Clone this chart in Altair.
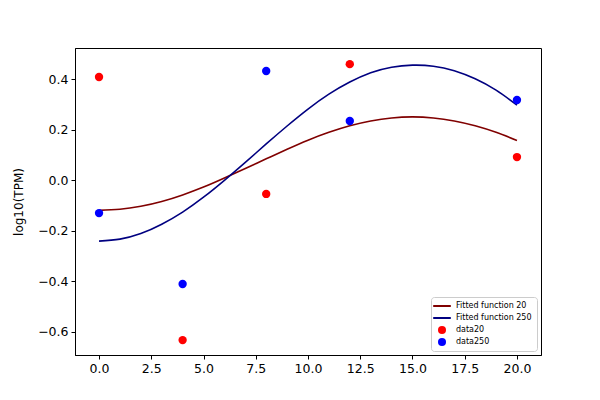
import altair as alt
import pandas as pd

pt_x = [0, 4, 8, 12, 20]
data20 = [0.408, -0.634, -0.055, 0.459, 0.091]
data250 = [-0.131, -0.412, 0.432, 0.234, 0.317]

fit_x = list(range(0, 21))
fit20 = [-0.120, -0.116, -0.104, -0.085, -0.059, -0.028, 0.008, 0.046, 0.084,
         0.122, 0.158, 0.189, 0.215, 0.234, 0.246, 0.250, 0.246, 0.234, 0.215,
         0.189, 0.157]
fit250 = [-0.242, -0.234, -0.212, -0.175, -0.127, -0.068, -0.001, 0.070, 0.143,
          0.214, 0.281, 0.340, 0.388, 0.425, 0.447, 0.455, 0.451, 0.433, 0.401,
          0.356, 0.297]

series = ["Fitted function 20", "Fitted function 250", "data20", "data250"]
colors = ["#800000", "#000080", "#ff0000", "#0000ff"]
line_shape = "M-2.2,-0.25H2.2V0.25H-2.2Z"
shapes = [line_shape, line_shape, "circle", "circle"]

lines = pd.DataFrame(
    {"x": fit_x + fit_x,
     "y": fit20 + fit250,
     "series": ["Fitted function 20"] * len(fit_x) + ["Fitted function 250"] * len(fit_x)}
)
points = pd.DataFrame(
    {"x": pt_x + pt_x,
     "y": data20 + data250,
     "series": ["data20"] * len(pt_x) + ["data250"] * len(pt_x)}
)

xscale = alt.Scale(domain=[-1.15, 21.15], nice=False, zero=False)
yscale = alt.Scale(domain=[-0.693, 0.523], nice=False, zero=False)
cscale = alt.Scale(domain=series, range=colors)
sscale = alt.Scale(domain=series, range=shapes)

xaxis = alt.Axis(values=[0, 2.5, 5, 7.5, 10, 12.5, 15, 17.5, 20], format=".1f",
                 title=None, grid=False)
yaxis = alt.Axis(values=[-0.6, -0.4, -0.2, 0.0, 0.2, 0.4], format=".1f",
                 title="log10(TPM)", grid=False, titlePadding=12)

leg = alt.Legend(title=None, orient="none", legendX=356, legendY=249)

line_layer = alt.Chart(lines).mark_line(strokeWidth=1.6, interpolate="natural").encode(
    x=alt.X("x:Q", scale=xscale, axis=xaxis),
    y=alt.Y("y:Q", scale=yscale, axis=yaxis),
    color=alt.Color("series:N", scale=cscale, legend=None),
    detail="series:N",
)

point_layer = alt.Chart(points).mark_point(filled=True, opacity=1, size=70).encode(
    x=alt.X("x:Q", scale=xscale),
    y=alt.Y("y:Q", scale=yscale),
    color=alt.Color("series:N", scale=cscale, legend=leg),
    shape=alt.Shape("series:N", scale=sscale, legend=leg),
)

chart = alt.layer(line_layer, point_layer).resolve_legend(
    color="independent", shape="independent"
).properties(
    width=466, height=307,
    autosize=alt.AutoSizeParams(type="none"),
    padding={"left": 67, "top": 40, "right": 51, "bottom": 37},
).configure_view(
    stroke="black", strokeWidth=1
).configure_axis(
    domainColor="black", tickColor="black", labelColor="black", titleColor="black",
    labelFont="DejaVu Sans", titleFont="DejaVu Sans", labelFontSize=12.5,
    titleFontSize=12, titleFontWeight="normal", tickSize=4, labelPadding=3,
    domainWidth=1, tickWidth=1,
).configure_legend(
    labelFont="DejaVu Sans", labelFontSize=8, labelColor="black",
    symbolSize=64, symbolStrokeWidth=0, rowPadding=4,
    fillColor="white", strokeColor="#cccccc", cornerRadius=3, padding=5,
    symbolOffset=2, labelOffset=10, symbolOpacity=1,
)

chart.save("out.html", embed_options={"renderer": "svg", "actions": False})
